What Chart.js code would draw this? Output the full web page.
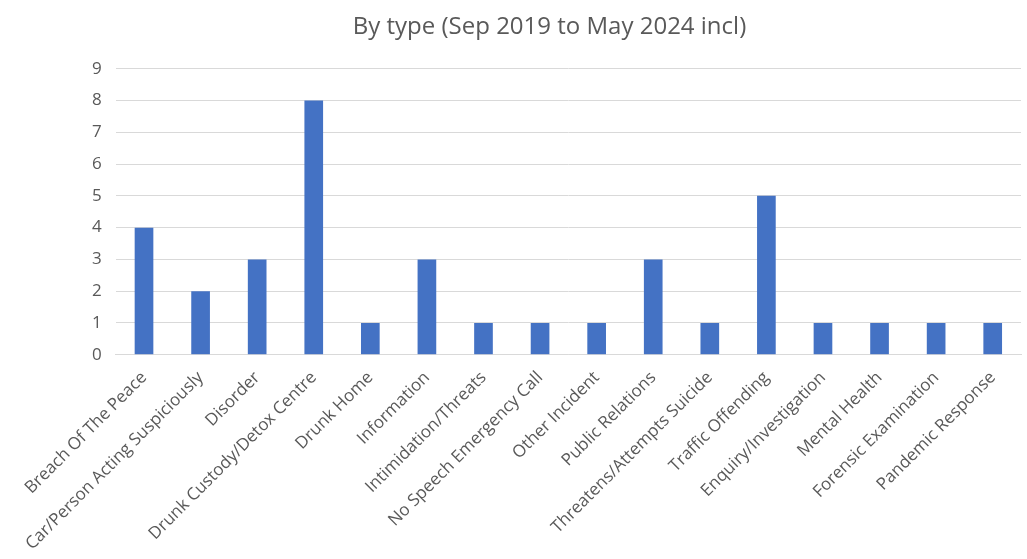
<!DOCTYPE html>
<html>
<head>
<meta charset="utf-8">
<script src="https://cdn.jsdelivr.net/npm/chart.js@4"></script>
<style>
  html, body { margin: 0; padding: 0; background: #fff; }
  #wrap { width: 1027px; height: 559px; }
</style>
</head>
<body>
<div id="wrap"><canvas id="barChart"></canvas></div>
<script>
// categories and counts
const categories = ['Breach Of The Peace', 'Car/Person Acting Suspiciously', 'Disorder',
    'Drunk Custody/Detox Centre', 'Drunk Home', 'Information', 'Intimidation/Threats',
    'No Speech Emergency Call', 'Other Incident', 'Public Relations',
    'Threatens/Attempts Suicide', 'Traffic Offending', 'Enquiry/Investigation',
    'Mental Health', 'Forensic Examination', 'Pandemic Response'];
const counts = [4, 2, 3, 8, 1, 3, 1, 1, 1, 3, 1, 5, 1, 1, 1, 1];
const yTicks = [0, 1, 2, 3, 4, 5, 6, 7, 8, 9];

const ctx = document.getElementById('barChart').getContext('2d');
const barChart = new Chart(ctx, {
    type: 'bar',
    data: {
        labels: categories,
        datasets: [{
            label: 'Count',
            data: counts,
            backgroundColor: '#4472C4',
            categoryPercentage: 1,
            barPercentage: 0.33
        }]
    },
    options: {
        responsive: true,
        maintainAspectRatio: false,
        animation: false,
        layout: { padding: { left: 78, right: 6, top: 11, bottom: 0 } },
        plugins: {
            legend: { display: false },
            tooltip: { enabled: false },
            title: {
                display: true,
                text: 'By type (Sep 2019 to May 2024 incl)',
                color: '#595959',
                font: { family: 'Open Sans', size: 24, weight: 'normal' },
                padding: { top: 2, bottom: 27 }
            }
        },
        scales: {
            x: {
                grid: { display: false },
                border: { color: '#d9d9d9' },
                ticks: {
                    color: '#595959',
                    font: { family: 'Open Sans', size: 17 },
                    minRotation: 45,
                    maxRotation: 45,
                    autoSkip: false,
                    padding: 5
                }
            },
            y: {
                min: 0,
                max: 9,
                afterBuildTicks: axis => { axis.ticks = yTicks.map(v => ({ value: v })); },
                grid: { color: '#d9d9d9', drawTicks: false },
                border: { display: false },
                ticks: {
                    color: '#595959',
                    font: { family: 'Open Sans', size: 17 },
                    padding: 14
                }
            }
        }
    }
});
</script>
</body>
</html>
